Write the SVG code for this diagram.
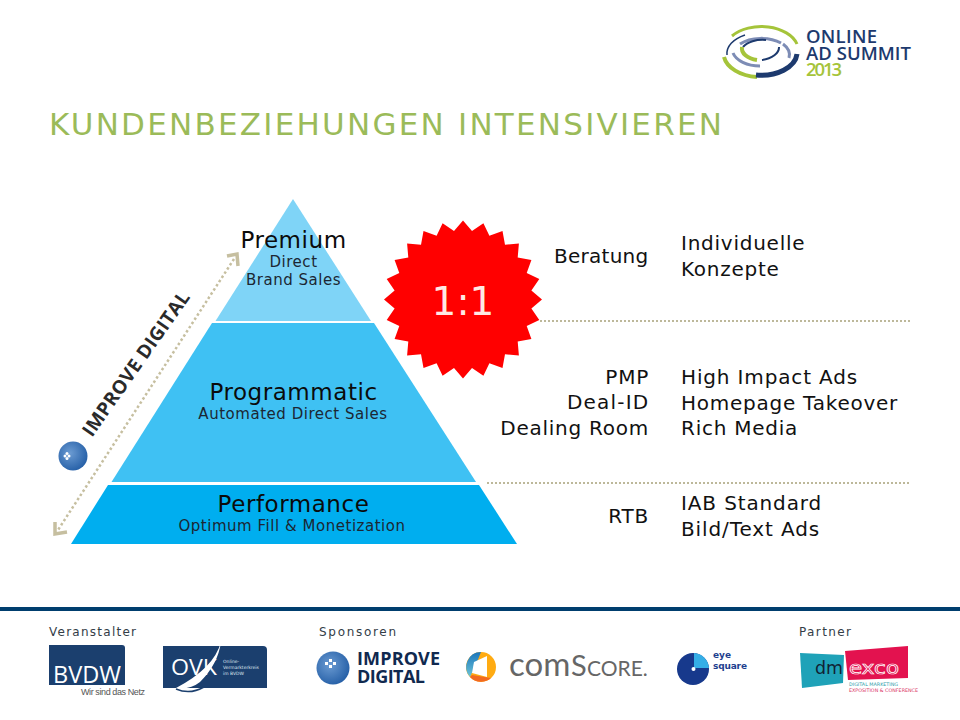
<svg xmlns="http://www.w3.org/2000/svg" width="960" height="720" viewBox="0 0 960 720">
<style>
text{font-family:"DejaVu Sans",Verdana,sans-serif}
.h{font-size:23px;letter-spacing:.55px;text-anchor:middle;fill:#0b0b0b}
.s{font-size:15px;letter-spacing:.53px;text-anchor:middle;fill:#1c2733}
.r{font-size:20px;letter-spacing:.75px;text-anchor:end;fill:#111}
.l{font-size:20px;letter-spacing:.75px;fill:#111}
.f{font-size:12px;fill:#333d47}
.rule{stroke:#bdb89a;stroke-width:2;stroke-dasharray:2 2;fill:none}
.dbl{stroke:#c6bfa0;stroke-width:2.500;stroke-dasharray:2.500 2.500;fill:none}
.head{stroke:#c6bfa0;stroke-width:3.500;fill:none}
.lg{font-family:"Open Sans","DejaVu Sans",sans-serif}
.arc{fill:none}
</style>
<defs>
<radialGradient id="ball" cx="40%" cy="40%" r="70%"><stop offset="0" stop-color="#6b9bd2"/><stop offset="1" stop-color="#1f5aa3"/></radialGradient>
<linearGradient id="cs" x1="0" y1="0" x2="0" y2="1"><stop offset="0" stop-color="#1b75bb"/><stop offset="1" stop-color="#6cc5d8"/></linearGradient>
</defs>
<rect width="960" height="720" fill="#fff"/>

<g id="event-logo">
<path class="arc" d="M732 36A37 24 0 0 1 797 44" stroke="#a5c43a" stroke-width="3"/>
<path class="arc" d="M724 57A37 24 0 0 0 757 77" stroke="#a5c43a" stroke-width="4"/>
<path class="arc" d="M756 75A36 23 0 0 0 797 54" stroke="#1d3a6e" stroke-width="5"/>
<path class="arc" d="M727 55A34 21 0 0 1 745 35" stroke="#1d3a6e" stroke-width="1.500"/>
<path class="arc" d="M740 44A28 16 0 0 1 781 43" stroke="#7d8cb5" stroke-width="3"/>
<path class="arc" d="M783 44A28 17 0 0 1 789 58" stroke="#7d8cb5" stroke-width="3"/>
<path class="arc" d="M733 53A28 17 0 0 0 760 66" stroke="#7d8cb5" stroke-width="3"/>
<path class="arc" d="M743 47A22 13 0 0 1 766 40" stroke="#1d3a6e" stroke-width="2"/>
<path class="arc" d="M762 60A22 13 0 0 0 779 47" stroke="#1d3a6e" stroke-width="2"/>
<path class="arc" d="M742 47A20 12 0 0 0 757 60" stroke="#a5c43a" stroke-width="4"/>
<text class="lg" x="806" y="43" font-size="18.500" font-weight="600" fill="#1d3a6e" textLength="71">ONLINE</text>
<text class="lg" x="806" y="60" font-size="18.500" font-weight="600" fill="#1d3a6e" textLength="105">AD SUMMIT</text>
<text class="lg" x="806" y="76" font-size="18.500" font-weight="600" fill="#a5c43a" textLength="36">2013</text>
</g>

<text id="title" x="49" y="135" font-size="31" fill="#9bbb59" textLength="673">KUNDENBEZIEHUNGEN INTENSIVIEREN</text>

<g id="connectors">
<path class="rule" d="M540 321H910"/>
<path class="rule" d="M487 483H910"/>
<path class="dbl" d="M234 259L58 530"/>
<path class="head" d="M227 256L237 254L238 266"/>
<path class="head" d="M55 522L55 534L67 532"/>
</g>

<g id="tier-premium">
<polygon points="293,199 371,321 215.500,321" fill="#7fd4f7"/>
<text class="h" x="293.500" y="248">Premium</text>
<text class="s" x="293.500" y="267">Direct</text>
<text class="s" x="293.500" y="285">Brand Sales</text>
</g>
<g id="tier-programmatic">
<polygon points="212,323 374,323 476,482 111.500,482" fill="#3fc1f3"/>
<text class="h" x="293.500" y="400">Programmatic</text>
<text class="s" x="293" y="419">Automated Direct Sales</text>
</g>
<g id="tier-performance">
<polygon points="108,485 479,485 517,544 71,544" fill="#00aeef"/>
<text class="h" x="293.500" y="512">Performance</text>
<text class="s" x="292" y="531">Optimum Fill &amp; Monetization</text>
</g>

<g id="improve-digital-label">
<circle cx="73" cy="456" r="14.500" fill="url(#ball)"/>
<g fill="#fff"><circle cx="65" cy="456" r="1.500"/><circle cx="69" cy="456" r="1.500"/><circle cx="67" cy="453.500" r="1.500"/><circle cx="67" cy="458.500" r="1.500"/></g>
<text class="lg" transform="translate(92 438) rotate(-55)" font-size="19" font-weight="700" fill="#2a2a2a" textLength="172">IMPROVE DIGITAL</text>
</g>

<g id="badge">
<polygon transform="translate(463 299.500)" fill="#f00" points="0,-79 9,-68.400 20.400,-76.300 26.400,-63.700 39.500,-68.400 42,-54.700 55.900,-55.900 54.700,-42 68.400,-39.500 63.700,-26.400 76.300,-20.400 68.400,-9 79,0 68.400,9 76.300,20.400 63.700,26.400 68.400,39.500 54.700,42 55.900,55.900 42,54.700 39.500,68.400 26.400,63.700 20.400,76.300 9,68.400 0,79 -9,68.400 -20.400,76.300 -26.400,63.700 -39.500,68.400 -42,54.700 -55.900,55.900 -54.700,42 -68.400,39.500 -63.700,26.400 -76.300,20.400 -68.400,9 -79,0 -68.400,-9 -76.300,-20.400 -63.700,-26.400 -68.400,-39.500 -54.700,-42 -55.900,-55.900 -42,-54.700 -39.500,-68.400 -26.400,-63.700 -20.400,-76.300 -9,-68.400"/>
<text x="463" y="315" font-size="39" text-anchor="middle" fill="#ffe9e4">1:1</text>
</g>

<g id="row-premium">
<text class="r" x="649" y="263" textLength="95">Beratung</text>
<text class="l" x="681" y="250">Individuelle</text>
<text class="l" x="681" y="276">Konzepte</text>
</g>
<g id="row-programmatic">
<text class="r" x="649" y="384">PMP</text>
<text class="r" x="649" y="409" textLength="82">Deal-ID</text>
<text class="r" x="649" y="435">Dealing Room</text>
<text class="l" x="681" y="384" textLength="177">High Impact Ads</text>
<text class="l" x="681" y="410">Homepage Takeover</text>
<text class="l" x="681" y="435">Rich Media</text>
</g>
<g id="row-performance">
<text class="r" x="649" y="523">RTB</text>
<text class="l" x="681" y="510" textLength="141">IAB Standard</text>
<text class="l" x="681" y="536" textLength="139">Bild/Text Ads</text>
</g>

<rect id="footer-bar" x="0" y="607" width="960" height="4" fill="#003e6e"/>
<text class="f" x="49" y="636" textLength="87">Veranstalter</text>
<text class="f" x="319" y="636" textLength="77">Sponsoren</text>
<text class="f" x="799" y="636" textLength="52">Partner</text>

<g id="logo-bvdw">
<path d="M49 645H122Q125 645 125 648V685H49Z" fill="#1b3f6e"/>
<text class="lg" x="53" y="683" font-size="24" fill="#fff" textLength="68" lengthAdjust="spacingAndGlyphs">BVDW</text>
<text x="81" y="695" font-size="9" fill="#555" textLength="64" style="font-family:'Liberation Sans',sans-serif">Wir sind das Netz</text>
</g>
<g id="logo-ovk">
<path d="M163 646H263Q267 646 267 650V688H163Z" fill="#1b3f6e"/>
<text class="lg" x="171" y="675" font-size="22" fill="#fff" textLength="46" lengthAdjust="spacingAndGlyphs">OVK</text>
<path d="M221 642Q214 668 176 688Q190 690 200 682Q218 664 221 642Z" fill="#fff"/>
<path d="M176 689Q190 695 204 687" fill="none" stroke="#1b3f6e" stroke-width="1.500"/>
<g class="lg" font-size="4.500" fill="#dfe6ee"><text x="223" y="663">Online-</text><text x="223" y="669">Vermarkterkreis</text><text x="223" y="675">im BVDW</text></g>
</g>
<g id="logo-improve">
<circle cx="333" cy="668" r="16.500" fill="url(#ball)"/>
<g fill="#fff"><rect x="325" y="662" width="3" height="3"/><rect x="329" y="659" width="3" height="3"/><rect x="329" y="665" width="3" height="3"/><rect x="333" y="662" width="3" height="3"/></g>
<text class="lg" x="357" y="665" font-size="18" font-weight="700" fill="#10294f" textLength="83">IMPROVE</text>
<text class="lg" x="357" y="683" font-size="18" font-weight="700" fill="#10294f" textLength="68">DIGITAL</text>
</g>
<g id="logo-comscore">
<circle cx="481" cy="667" r="15" fill="#ffab12"/>
<path d="M481 652A15 15 0 0 0 470 677L477 662Z" fill="url(#cs)"/>
<path d="M470 677A15 15 0 0 0 491 678L472 675Z" fill="#f26a21"/>
<polygon points="474,662 487,656 487,677 472,673" fill="#fff"/>
<text y="676" fill="#666" style="font-family:Lato,sans-serif"><tspan x="509" font-size="33">com</tspan><tspan x="571" font-size="29">S</tspan><tspan x="587" font-size="21">CORE.</tspan></text>
</g>
<g id="logo-eyesquare">
<circle cx="693" cy="669" r="16" fill="#17398c"/>
<path d="M694 653A16 16 0 0 1 709 668H694Z" fill="#35aee6"/>
<circle cx="693.500" cy="669" r="2" fill="#fff"/>
<text x="713" y="658" font-size="9" font-weight="700" fill="#1f3f8f">eye</text>
<text x="713" y="669" font-size="9" font-weight="700" fill="#1f3f8f" textLength="34">square</text>
</g>
<g id="logo-dmexco">
<polygon points="800,653 844,655 843,683 802,688" fill="#1fa2b8"/>
<polygon points="845,651 908,646 908,678 848,680" fill="#e3124f"/>
<text x="815" y="674" font-size="17" fill="#123" textLength="28" lengthAdjust="spacingAndGlyphs">dm</text>
<text x="849" y="674" font-size="17" fill="#e3124f" stroke="#fff" stroke-width=".7" textLength="50" lengthAdjust="spacingAndGlyphs">exco</text>
<text x="849" y="686" font-size="4.800" fill="#2a9aa8" textLength="49">DIGITAL MARKETING</text>
<text x="849" y="692" font-size="4.800" fill="#d9305f" textLength="69">EXPOSITION &amp; CONFERENCE</text>
</g>
</svg>
